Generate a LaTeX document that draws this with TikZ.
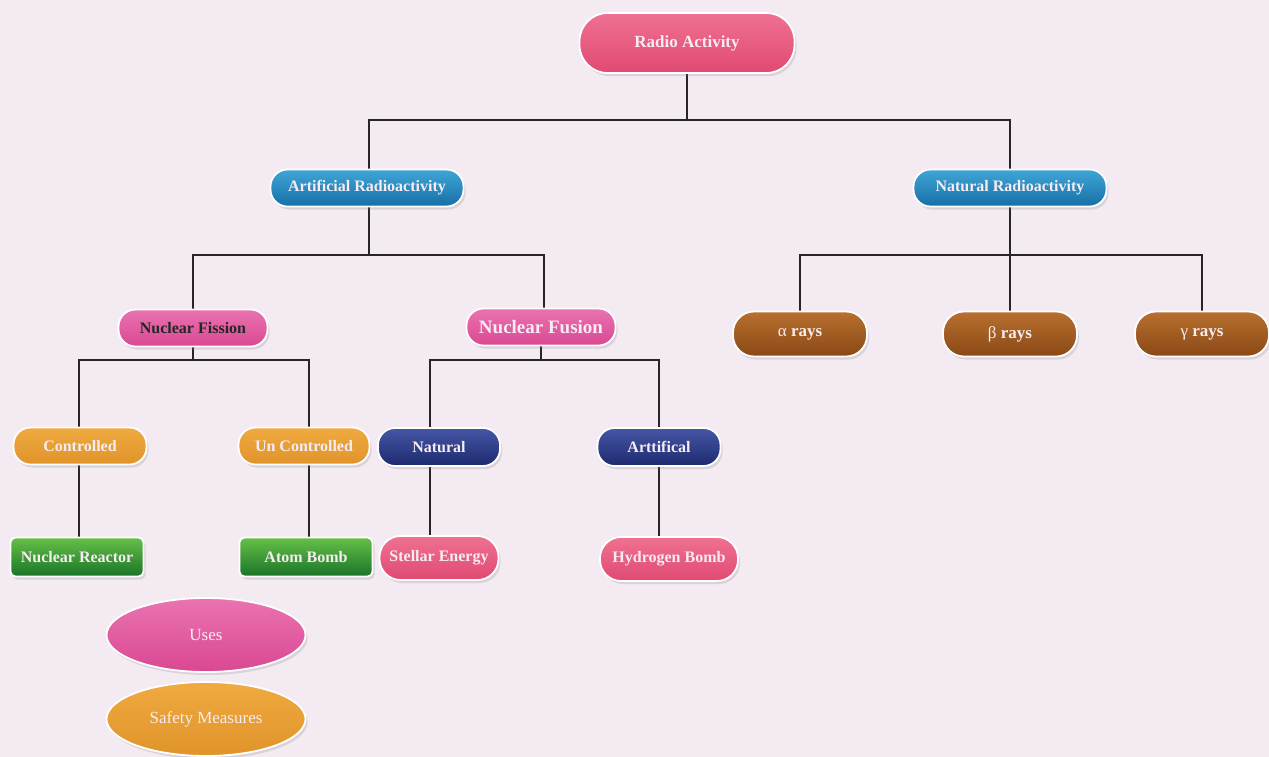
\documentclass[tikz,border=0pt]{standalone}
\usepackage{fontspec}
\setmainfont{Liberation Serif}
\usetikzlibrary{shapes.geometric,shadows,backgrounds}
\definecolor{bgc}{HTML}{F3EAF2}
\definecolor{txt}{HTML}{F7ECF1}
\definecolor{rdT}{HTML}{EF7192}\definecolor{rdB}{HTML}{E04A72}
\definecolor{blT}{HTML}{3FA6D6}\definecolor{blB}{HTML}{176EA6}
\definecolor{pkT}{HTML}{EA73B0}\definecolor{pkB}{HTML}{D94892}
\definecolor{brT}{HTML}{B8702E}\definecolor{brB}{HTML}{8A4816}
\definecolor{orT}{HTML}{EFAA40}\definecolor{orB}{HTML}{E0942A}
\definecolor{nvT}{HTML}{4556A6}\definecolor{nvB}{HTML}{1E2A6E}
\definecolor{grT}{HTML}{66C048}\definecolor{grB}{HTML}{1A7428}
\tikzset{
  box/.style={draw=white, line width=1.8pt, text=txt, font=\bfseries\fontsize{16}{18}\selectfont,
    inner sep=0pt, drop shadow={opacity=0.22, shadow xshift=2pt, shadow yshift=-3pt}},
  pill/.style={box, rectangle, rounded corners=#1},
  radioc/.style={pill=28pt, top color=rdT, bottom color=rdB, minimum width=215pt, minimum height=60pt},
  bluec/.style={pill=17pt, top color=blT, bottom color=blB, minimum width=193pt, minimum height=37pt},
  pinkc/.style={pill=17pt, top color=pkT, bottom color=pkB, minimum width=149pt, minimum height=37pt},
  brownc/.style={pill=21pt, top color=brT, bottom color=brB, minimum width=134pt, minimum height=45pt},
  orangec/.style={pill=17pt, top color=orT, bottom color=orB, minimum width=133pt, minimum height=37pt},
  navyc/.style={pill=17pt, top color=nvT, bottom color=nvB, minimum width=122pt, minimum height=38pt},
  greenc/.style={pill=5pt, top color=grT, bottom color=grB, minimum width=133pt, minimum height=39pt},
  redc/.style={pill=21pt, top color=rdT, bottom color=rdB, minimum height=44pt},
  ovalc/.style={box, ellipse, minimum width=199pt, minimum height=74pt, font=\fontsize{17}{19}\selectfont},
  conn/.style={draw=black!85, line width=2.2pt},
}
\begin{document}
\begin{tikzpicture}[x=1pt,y=-1pt]
\useasboundingbox (0,0) rectangle (1269,756);
% nodes
\node[radioc, font=\bfseries\fontsize{17}{19}\selectfont] (ra) at (687,43) {Radio Activity};
\node[bluec] (art) at (367,188) {Artificial Radioactivity};
\node[bluec] (natr) at (1010,188) {Natural Radioactivity};
\node[pinkc, text=black!85] (fis) at (193,328) {Nuclear Fission};
\node[pinkc, font=\bfseries\fontsize{19}{21}\selectfont] (fus) at (541,327) {Nuclear Fusion};
\node[brownc, font=\bfseries\fontsize{17}{19}\selectfont] (al) at (800,334) {\mdseries α \bfseries rays};
\node[brownc, font=\bfseries\fontsize{17}{19}\selectfont] (be) at (1010,334) {\mdseries β \bfseries rays};
\node[brownc, font=\bfseries\fontsize{17}{19}\selectfont] (ga) at (1202,334) {\mdseries γ \bfseries rays};
\node[orangec] (con) at (80,446) {Controlled};
\node[orangec, minimum width=131pt] (unc) at (304,446) {Un Controlled};
\node[navyc] (natf) at (439,447) {Natural};
\node[navyc, minimum width=123pt] (artf) at (659,447) {Arttifical};
\node[greenc] (nr) at (77,557) {Nuclear Reactor};
\node[greenc] (ab) at (306,557) {Atom Bomb};
\node[redc, minimum width=119pt] (se) at (439,558) {Stellar Energy};
\node[redc, minimum width=138pt] (hb) at (669,559) {Hydrogen Bomb};
\node[ovalc, top color=pkT, bottom color=pkB] (uses) at (206,635) {Uses};
\node[ovalc, top color=orT, bottom color=orB] (safe) at (206,719) {Safety Measures};
% junctions
\coordinate (j1) at (687,120);
\coordinate (j2) at (369,255);
\coordinate (j3) at (1010,255);
\coordinate (j4) at (193,360);
\coordinate (j5) at (541,360);
% connectors
\begin{scope}[on background layer]
\fill[bgc] (-5,-5) rectangle (1275,762);
\draw[conn] (ra.center) -- (j1);
\draw[conn] (j1) -| ([xshift=2pt]art.center);
\draw[conn] (j1) -| (natr.center);
\draw[conn] ([xshift=2pt]art.center) -- (j2);
\draw[conn] (j2) -| (fis.center);
\draw[conn] (j2) -| ([xshift=3pt]fus.center);
\draw[conn] (natr.center) -- (j3);
\draw[conn] (j3) -| (al.center);
\draw[conn] (j3) -- (be.center);
\draw[conn] (j3) -| (ga.center);
\draw[conn] (fis.center) -- (j4);
\draw[conn] (j4) -| ([xshift=-1pt]con.center);
\draw[conn] (j4) -| ([xshift=5pt]unc.center);
\draw[conn] (fus.center) -- (j5);
\draw[conn] (j5) -| ([xshift=-9pt]natf.center);
\draw[conn] (j5) -| (artf.center);
\draw[conn] ([xshift=-1pt]con.center) -- ([xshift=-1pt]con.center |- nr.center);
\draw[conn] ([xshift=5pt]unc.center) -- ([xshift=5pt]unc.center |- ab.center);
\draw[conn] ([xshift=-9pt]natf.center) -- ([xshift=-9pt]natf.center |- se.center);
\draw[conn] (artf.center) -- (artf.center |- hb.north);
\end{scope}
\end{tikzpicture}
\end{document}
